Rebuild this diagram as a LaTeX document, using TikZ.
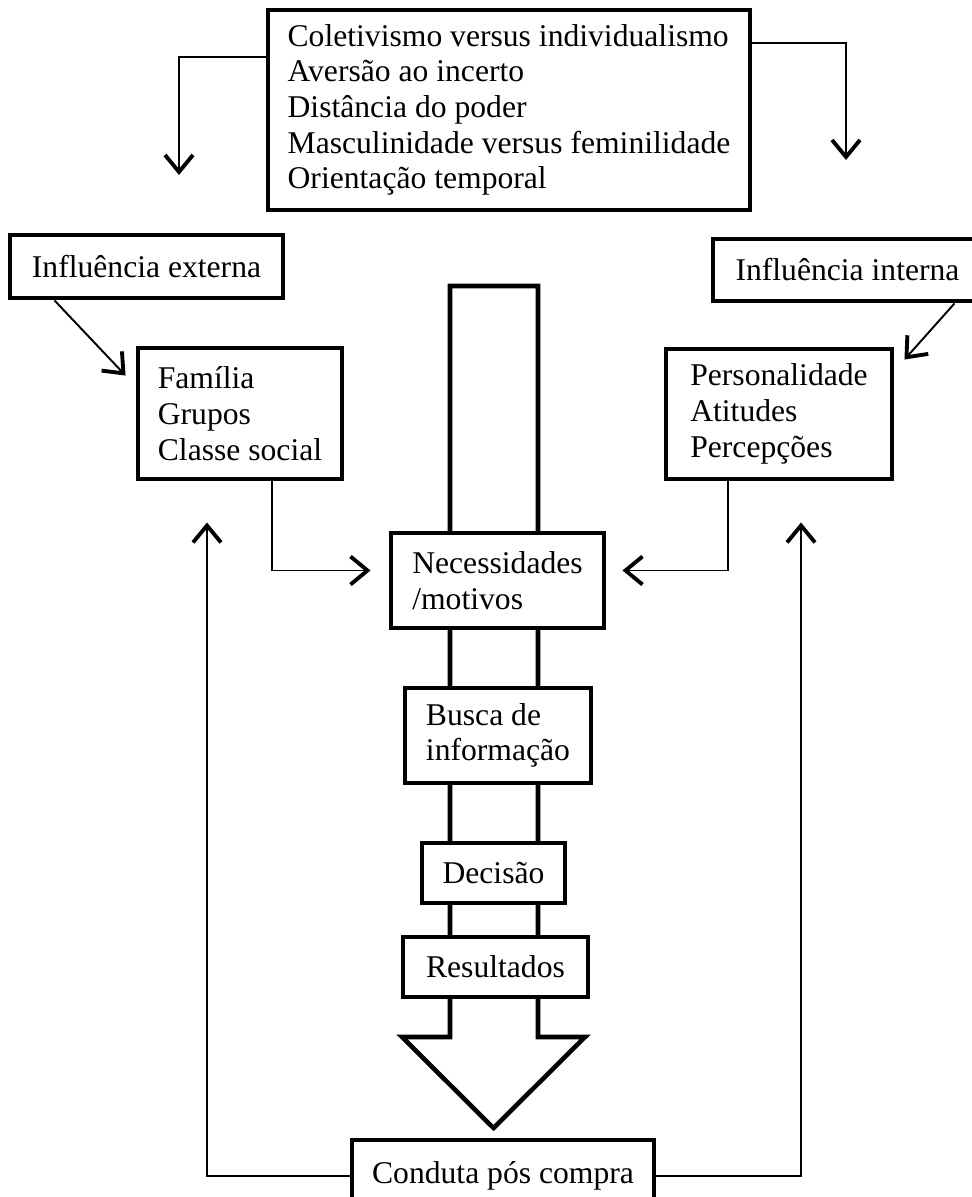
\documentclass[tikz,border=0pt]{standalone}
\usepackage{fontspec}
\setmainfont{Liberation Serif}
\usetikzlibrary{calc,arrows.meta}
\tikzset{
  box/.style={draw=black, line width=2.8pt, fill=white, align=left, inner sep=0pt,
    font=\fontsize{18}{20.3}\selectfont},
  link/.style={draw=black, line width=1.1pt},
  flow/.style={link, -{Straight Barb[length=3.4mm,width=5.6mm,line width=2.2pt]}},
  shaft/.style={draw=black, line width=2.6pt, fill=white, line join=miter},
}

\begin{document}
\begin{tikzpicture}
  \useasboundingbox (0,0) rectangle (19.44,-23.94);
  \draw[shaft] (9.0,-20.74) -- (9.0,-5.72) -- (10.76,-5.72) -- (10.76,-20.74)
    -- (11.7,-20.74) -- (9.87,-22.56) -- (8.04,-20.74) -- cycle;
  \node[box, minimum width=9.64cm, minimum height=4.0cm] (cult) at (10.18,-2.2)
    {Coletivismo versus individualismo\\Aversão ao incerto\\Distância do poder\\Masculinidade versus feminilidade\\Orientação temporal};
  \node[box, minimum width=5.46cm, minimum height=1.26cm] (ext) at (2.93,-5.33) {Influência externa};
  \node[box, minimum width=5.38cm, minimum height=1.24cm] (int) at (16.95,-5.4) {Influência interna};
  \node[box, minimum width=4.08cm, minimum height=2.62cm] (fam) at (4.8,-8.27) {Família\\Grupos\\Classe social};
  \node[box, minimum width=4.52cm, minimum height=2.6cm] (pers) at (15.58,-8.28) {Personalidade\\Atitudes\\Percepções};
  \node[box, minimum width=4.26cm, minimum height=1.9cm] (nec) at (9.95,-11.61) {Necessidades\\/motivos};
  \node[box, minimum width=3.72cm, minimum height=1.9cm] (busca) at (9.96,-14.71) {Busca de\\informação};
  \node[box, minimum width=2.86cm, minimum height=1.2cm] (dec) at (9.87,-17.46) {Decisão};
  \node[box, minimum width=3.7cm, minimum height=1.2cm] (res) at (9.91,-19.34) {Resultados};
  \node[box, minimum width=6.04cm, minimum height=1.44cm] (cond) at (10.06,-23.52) {Conduta pós compra};
  \coordinate (cultL) at (3.58,-3.5);
  \coordinate (cultR) at (16.92,-3.2);
  \draw[flow] ([yshift=1.06cm]cult.west) -| (cultL);
  \draw[flow] ([yshift=1.34cm]cult.east) -| (cultR);
  \draw[flow] ([xshift=0.94cm]ext.south west) -- ([xshift=-0.2cm,yshift=-0.6cm]fam.north west);
  \draw[flow] ([xshift=-0.6cm]int.south east) -- ([xshift=0.2cm,yshift=-0.26cm]pers.north east);
  \draw[flow] ([xshift=0.64cm]fam.south) |- ([xshift=-0.36cm,yshift=0.2cm]nec.west);
  \draw[flow] ([xshift=-1.02cm]pers.south) |- ([xshift=0.32cm,yshift=0.2cm]nec.east);
  \draw[flow] (cond.west) -| ([xshift=-0.66cm,yshift=-0.82cm]fam.south);
  \draw[flow] (cond.east) -| ([xshift=0.44cm,yshift=-0.82cm]pers.south);
\end{tikzpicture}
\end{document}
